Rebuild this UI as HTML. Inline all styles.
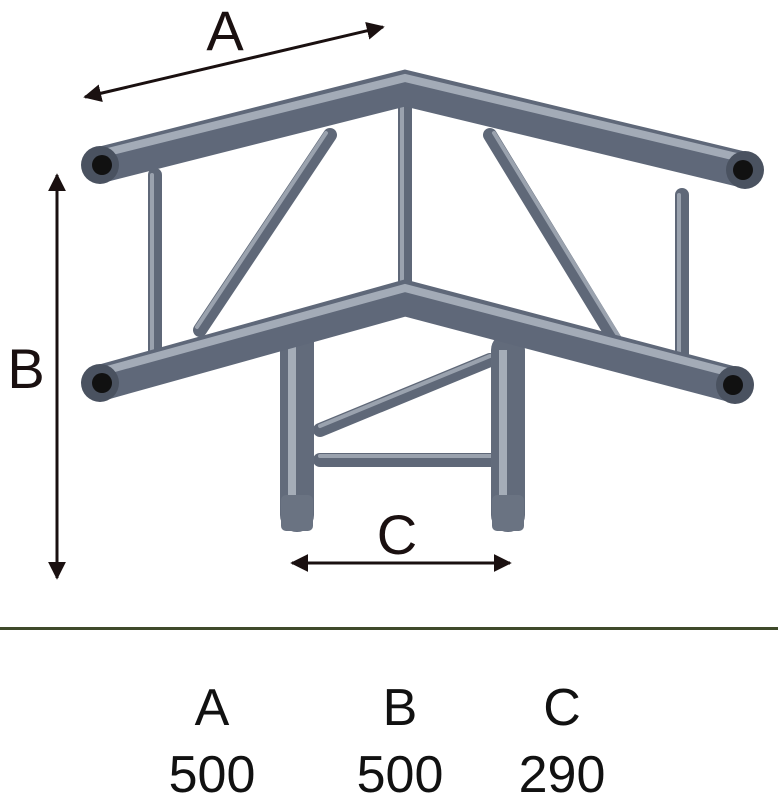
<!DOCTYPE html>
<html><head><meta charset="utf-8"><style>
html,body{margin:0;padding:0;background:#fff;width:778px;height:800px;overflow:hidden}
</style></head><body>
<svg width="778" height="800" viewBox="0 0 778 800" xmlns="http://www.w3.org/2000/svg" font-family="Liberation Sans, sans-serif">
<defs>
<marker id="ah" viewBox="0 0 10 10" refX="9" refY="5" markerWidth="6" markerHeight="6" orient="auto-start-reverse"><path d="M0,0 L10,5 L0,10 z" fill="#1a1010"/></marker>
</defs>
<g stroke-linecap="round" fill="none">
<g stroke="#5f6878" stroke-width="14">
<line x1="155" y1="175" x2="155" y2="352"/>
<line x1="682" y1="195" x2="682" y2="360"/>
<line x1="330" y1="135" x2="200" y2="330"/>
<line x1="490" y1="135" x2="615" y2="340"/>
<line x1="405" y1="100" x2="405" y2="290"/>
<line x1="320" y1="460" x2="495" y2="460"/>
<line x1="320" y1="430" x2="490" y2="360"/>
</g>
<g stroke="#9aa2ae" stroke-width="4">
<line x1="152" y1="175" x2="152" y2="352"/>
<line x1="679" y1="195" x2="679" y2="360"/>
<line x1="326" y1="133" x2="197" y2="327"/>
<line x1="494" y1="133" x2="619" y2="337"/>
<line x1="402" y1="100" x2="402" y2="290"/>
<line x1="320" y1="456" x2="495" y2="456"/>
<line x1="320" y1="426" x2="490" y2="356"/>
</g>
<g stroke="#626b7b" stroke-width="34">
<line x1="297" y1="335" x2="297" y2="515"/>
<line x1="508" y1="350" x2="508" y2="515"/>
</g>
<g stroke="#a5adb8" stroke-width="8" stroke-linecap="butt">
<line x1="292" y1="335" x2="292" y2="520"/>
<line x1="503" y1="350" x2="503" y2="520"/>
</g>
<g stroke="#5f6879" stroke-width="36" stroke-linecap="butt">
<polyline points="100,165 405,88 745,170"/>
<polyline points="100,383 405,298 735,385"/>
</g>
<g stroke="#a3abb7" stroke-width="8" stroke-linecap="butt">
<polyline points="100,154 405,78 745,159"/>
<polyline points="100,372 405,288 735,374"/>
</g>
</g>
<g>
<circle cx="100" cy="165" r="19" fill="#4a5260"/><circle cx="102" cy="165" r="10" fill="#111"/>
<circle cx="745" cy="170" r="19" fill="#4a5260"/><circle cx="743" cy="170" r="10" fill="#111"/>
<circle cx="100" cy="383" r="19" fill="#4a5260"/><circle cx="102" cy="383" r="10" fill="#111"/>
<circle cx="735" cy="385" r="19" fill="#4a5260"/><circle cx="733" cy="385" r="10" fill="#111"/>
<rect x="281" y="495" width="32" height="36" rx="5" fill="#6a7382"/>
<rect x="492" y="495" width="32" height="36" rx="5" fill="#6a7382"/>
</g>
<g stroke="#1a1010" stroke-width="3" marker-start="url(#ah)" marker-end="url(#ah)">
<line x1="85" y1="97" x2="383" y2="27"/>
<line x1="57" y1="175" x2="57" y2="578"/>
<line x1="292" y1="563" x2="510" y2="563"/>
</g>
<g fill="#1a1010" font-size="56" text-anchor="middle">
<text x="225" y="50">A</text>
<text x="26" y="388">B</text>
<text x="397" y="554">C</text>
</g>
<rect x="0" y="627" width="778" height="3" fill="#3f4a2a"/>
<g fill="#111" font-size="52" text-anchor="middle">
<text x="212" y="725">A</text><text x="400" y="725">B</text><text x="562" y="725">C</text>
<text x="212" y="792">500</text><text x="400" y="792">500</text><text x="562" y="792">290</text>
</g>
</svg>
</body></html>
